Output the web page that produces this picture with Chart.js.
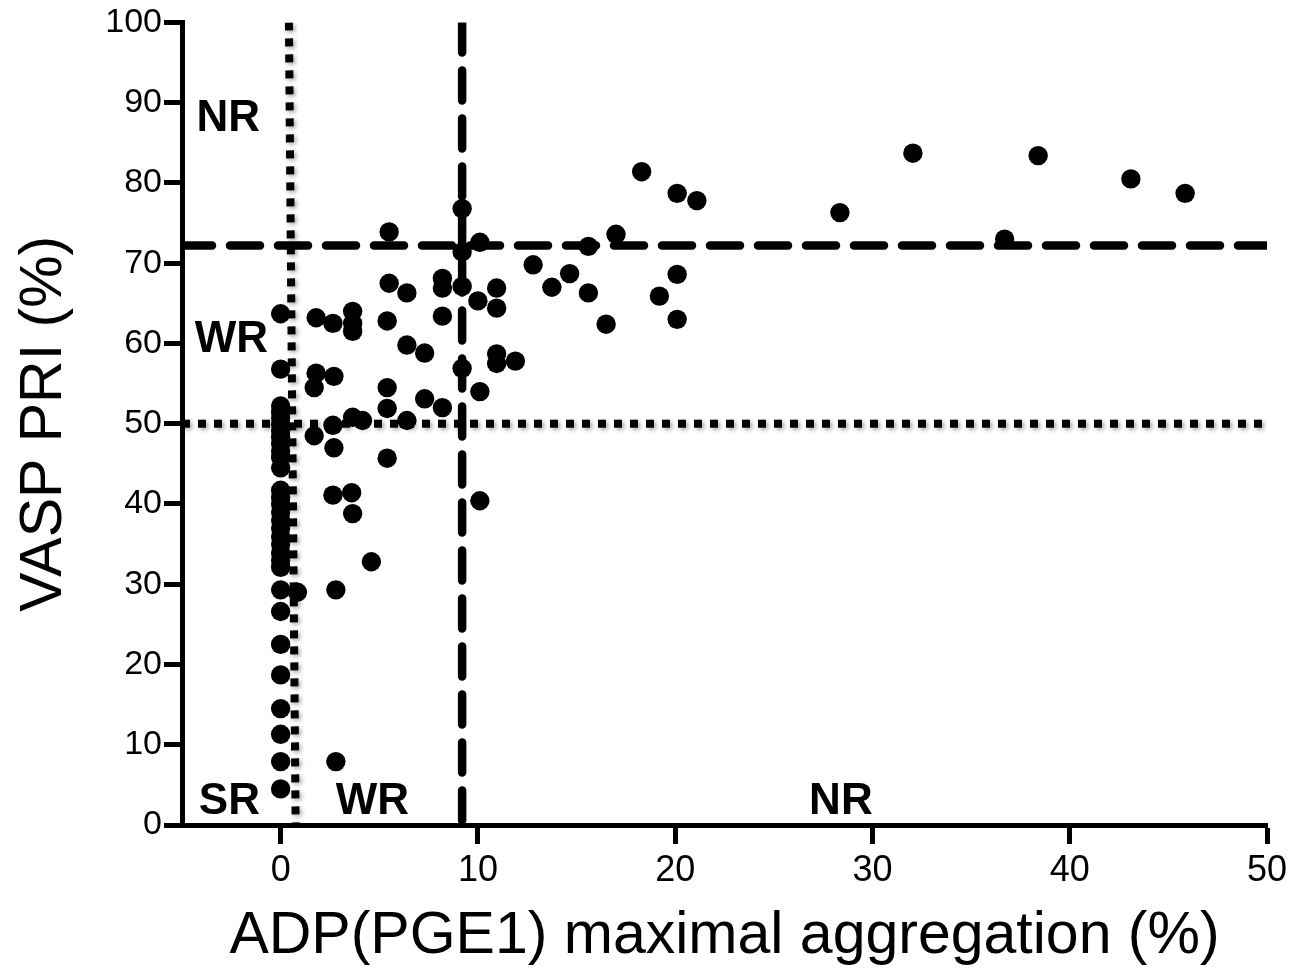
<!DOCTYPE html>
<html><head><meta charset="utf-8">
<script src="https://cdn.jsdelivr.net/npm/chart.js@4/dist/chart.umd.min.js"></script>
<style>html,body{margin:0;padding:0;background:#fff}#wrap{width:1297px;height:970px}</style>
</head><body><div id="wrap"><canvas id="c" width="1297" height="970"></canvas></div>
<script>
// ADP(PGE1) maximal aggregation (%) for each patient
const adpX = [
  0,0,
  0,0,0,0,0,0,0,0,0,0,
  0,0,0,0,0,0,0,0,0,0,0,
  0,0,0,0,0,0,0,0,
  0.85,2.8,2.8,
  1.8,2.65,3.65,3.65,3.65,
  5.5,5.5,6.4,5.4,6.4,7.3,
  8.2,8.2,8.2,
  9.2,9.2,9.2,10.1,10.0,
  10.95,10.95,10.95,10.95,11.9,
  9.2,10.1,10.1,
  1.8,1.7,2.7,5.4,5.4,6.4,7.3,8.2,
  3.65,4.15,2.65,1.7,2.7,5.4,
  2.65,3.6,3.65,4.6,
  12.8,14.65,13.75,15.6,15.6,16.5,17.0,
  18.3,20.1,21.1,20.1,19.2,20.1,
  28.35,32.05,36.7,38.4,43.1,45.85
];
// VASP PRI (%) for each patient
const vaspY = [
  63.7,56.8,
  52.2,51.4,50.7,49.9,49.1,48.3,47.5,46.6,45.8,44.5,
  41.7,40.8,40.0,39.0,38.0,37.0,35.9,35.0,33.9,33.0,32.1,
  29.3,26.6,22.5,18.7,14.5,11.3,7.9,4.5,
  29.0,29.3,7.9,
  63.2,62.5,64.0,62.5,61.5,
  73.9,67.5,66.3,62.8,59.8,58.8,
  68.1,66.9,63.4,
  76.8,71.4,67.1,72.6,65.3,
  66.9,64.4,58.7,57.5,57.8,
  56.9,54.0,40.4,
  56.3,54.5,55.9,54.5,51.9,50.4,53.1,52.0,
  50.8,50.4,49.8,48.5,47.0,45.7,
  41.1,41.4,38.8,32.8,
  69.8,68.7,67.0,72.1,66.3,62.4,73.6,
  81.4,78.7,77.8,68.6,65.9,63.0,
  76.3,83.7,73.0,83.4,80.5,78.7
];
const xTickLabels = [0, 10, 20, 30, 40, 50];
const yTickLabels = [0, 10, 20, 30, 40, 50, 60, 70, 80, 90, 100];
// cut-off lines
const vaspHighCut = 72.2;
const vaspLowCut = 50;
const adpHighCut = 9.2;
const adpLowCutTop = 0.42;
const adpLowCutBottom = 0.76;
// region labels
const regionLabels = ['NR', 'WR', 'SR', 'WR', 'NR'];
const regionLabelX = [-2.65, -2.5, -2.6, 4.65, 28.4];
const regionLabelY = [88, 60.4, 2.9, 2.9, 2.9];

const FONT = 'Liberation Sans, Arial, Helvetica, sans-serif';

const points = adpX.map((x, i) => ({x: x, y: vaspY[i]}));

const labelPlugin = {
  id: 'regionLabels',
  beforeDatasetDraw(chart, args) {
    const ds = chart.data.datasets[args.index];
    if (ds.dotted) {
      const ctx = chart.ctx;
      ctx.save();
      ctx.shadowColor = 'rgba(0,0,0,0.35)';
      ctx.shadowBlur = 4;
      ctx.shadowOffsetX = 2;
      ctx.shadowOffsetY = 2;
    }
  },
  afterDatasetDraw(chart, args) {
    const ds = chart.data.datasets[args.index];
    if (ds.dotted) chart.ctx.restore();
  },
  afterDatasetsDraw(chart) {
    const ctx = chart.ctx, xs = chart.scales.x, ys = chart.scales.y;
    ctx.save();
    ctx.fillStyle = '#000';
    ctx.font = 'bold 44px ' + FONT;
    ctx.textAlign = 'center';
    ctx.textBaseline = 'middle';
    regionLabels.forEach((t, i) => {
      ctx.fillText(t, xs.getPixelForValue(regionLabelX[i]), ys.getPixelForValue(regionLabelY[i]));
    });
    ctx.restore();
  }
};

const xMin = -5, xMax = 50;

new Chart(document.getElementById('c'), {
  type: 'scatter',
  data: {
    datasets: [
      {
        label: 'patients',
        data: points,
        backgroundColor: '#000',
        borderColor: '#000',
        pointRadius: 9.7,
        pointBorderWidth: 0,
        showLine: false
      },
      {
        label: 'VASP high cut',
        data: [{x: xMin, y: vaspHighCut}, {x: xMax, y: vaspHighCut}],
        showLine: true, pointRadius: 0,
        borderColor: '#000', borderWidth: 8.5,
        borderDash: [30, 18], borderCapStyle: 'round'
      },
      {
        label: 'ADP high cut',
        data: [{x: adpHighCut, y: 100}, {x: adpHighCut, y: 0}],
        showLine: true, pointRadius: 0,
        borderColor: '#000', borderWidth: 8.5,
        borderDash: [30, 18], borderCapStyle: 'round'
      },
      {
        label: 'VASP low cut',
        dotted: true,
        data: [{x: xMin, y: vaspLowCut}, {x: xMax, y: vaspLowCut}],
        showLine: true, pointRadius: 0,
        borderColor: '#000', borderWidth: 8,
        borderDash: [8, 8], borderCapStyle: 'butt'
      },
      {
        label: 'ADP low cut',
        dotted: true,
        data: [{x: adpLowCutTop, y: 100}, {x: adpLowCutBottom, y: 0}],
        showLine: true, pointRadius: 0,
        borderColor: '#000', borderWidth: 8,
        borderDash: [8, 8], borderCapStyle: 'butt'
      }
    ]
  },
  options: {
    responsive: false,
    animation: false,
    devicePixelRatio: 1,
    layout: {padding: {top: 20, right: 30, left: 0, bottom: 0}},
    plugins: {legend: {display: false}, tooltip: {enabled: false}},
    scales: {
      x: {
        type: 'linear', min: xMin, max: xMax,
        afterBuildTicks: s => { s.ticks = xTickLabels.map(v => ({value: v})); },
        afterFit: s => { s.height = 145; },
        ticks: {color: '#000', font: {family: FONT, size: 36}, padding: 5},
        grid: {display: true, drawOnChartArea: false, drawTicks: true, tickLength: 19, tickWidth: 5, tickColor: '#000'},
        border: {display: true, width: 5, color: '#000'},
        title: {display: true, text: 'ADP(PGE1) maximal aggregation (%)', color: '#000',
                font: {family: FONT, size: 59, lineHeight: 1}, padding: {top: 0, bottom: 4}}
      },
      y: {
        type: 'linear', min: 0, max: 100,
        afterBuildTicks: s => { s.ticks = yTickLabels.map(v => ({value: v})); },
        afterFit: s => { s.width = 182; },
        ticks: {color: '#000', font: {family: FONT, size: 34}, padding: 2},
        grid: {display: true, drawOnChartArea: false, drawTicks: true, tickLength: 18, tickWidth: 5, tickColor: '#000'},
        border: {display: true, width: 5, color: '#000'},
        title: {display: true, text: 'VASP PRI (%)', color: '#000',
                font: {family: FONT, size: 59, lineHeight: 1}, padding: {top: 15, bottom: 0}}
      }
    }
  },
  plugins: [labelPlugin]
});
</script>
</body></html>
